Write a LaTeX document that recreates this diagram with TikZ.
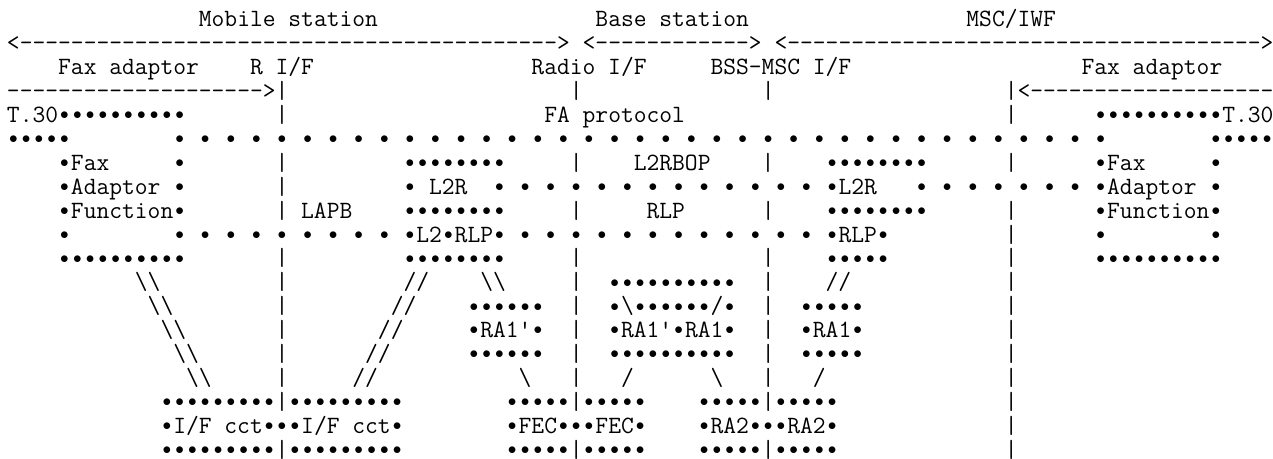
\documentclass[tikz,border=0pt]{standalone}
\usepackage{graphicx}
\usepackage{tikz}

% one character cell of the typewriter font
\newcommand\dt{\makebox[\fontcharwd\font`x]{\raisebox{0.11em}{\scalebox{0.75}{$\bullet$}}}}
\newcommand\gap[1]{\kern\dimexpr #1\fontcharwd\font`x\relax}
\newcommand\dts[1]{\foreach\dtk in {1,...,#1}{\dt}}
\newcommand\sdts[1]{\dt\foreach\dtk in {2,...,#1}{\gap{1}\dt}}
\newcommand\dashes[1]{\foreach\dtk in {1,...,#1}{-}}
\newcommand\bsl{\textbackslash}

\begin{document}
\begin{tikzpicture}[
    x=0.75pt, y=-0.75pt,
    art/.style={anchor=base west, inner sep=0pt, outer sep=0pt, font=\ttfamily\fontsize{18.63}{20}\selectfont}
]
    \useasboundingbox (0,0) rectangle (1273,459);

    % Entities and interfaces
    \node[art] (stations) at (7,27) {\gap{15}Mobile station\gap{17}Base station\gap{17}MSC/IWF};
    \node[art] (spans) at (7,50.9) {<\dashes{42}>\gap{1}<\dashes{12}>\gap{1}<\dashes{37}>};
    \node[art] (ifnames) at (7,74.8) {\gap{4}Fax adaptor\gap{4}R I/F\gap{17}Radio I/F\gap{5}BSS-MSC I/F\gap{18}Fax adaptor};
    \node[art] (ifticks) at (7,98.7) {\dashes{20}>|\gap{22}|\gap{14}|\gap{18}|<\dashes{19}};

    % Fax adaptor layers
    \node[art] (t30) at (7,122.6) {T.30\dts{10}\gap{7}|\gap{20}FA protocol\gap{25}|\gap{6}\dts{10}T.30};
    \node[art] (fadots) at (7,146.5) {\dts{5}\gap{8}\sdts{37}\gap{8}\dts{5}};
    \node[art] (faxrow) at (7,170.4) {\gap{4}\dt Fax\gap{5}\dt\gap{7}|\gap{9}\dts{8}\gap{5}|\gap{4}L2RBOP\gap{4}|\gap{4}\dts{8}\gap{6}|\gap{6}\dt Fax\gap{5}\dt};
    \node[art] (adaptorrow) at (7,194.3) {\gap{4}\dt Adaptor\gap{1}\dt\gap{7}|\gap{9}\dt\gap{1}L2R\gap{2}\sdts{13}\gap{1}\dt L2R\gap{3}\sdts{7}\gap{1}\dt Adaptor\gap{1}\dt};
    \node[art] (functionrow) at (7,218.2) {\gap{4}\dt Function\dt\gap{7}|\gap{1}LAPB\gap{4}\dts{8}\gap{5}|\gap{5}RLP\gap{6}|\gap{4}\dts{8}\gap{6}|\gap{6}\dt Function\dt};
    \node[art] (rlpdots) at (7,242.1) {\gap{4}\dt\gap{8}\sdts{9}\gap{1}\dt L2\dt RLP\dt\gap{1}\sdts{12}\gap{1}\dt RLP\dt\gap{9}|\gap{6}\dt\gap{8}\dt};
    \node[art] (boxbase) at (7,266) {\gap{4}\dts{10}\gap{7}|\gap{9}\dts{8}\gap{5}|\gap{14}|\gap{4}\dts{5}\gap{9}|\gap{6}\dts{10}};

    % Rate adaption
    \node[art] (slanta) at (7,289.9) {\gap{10}\bsl\bsl\gap{9}|\gap{9}//\gap{4}\bsl\bsl\gap{5}|\gap{2}\dts{10}\gap{2}|\gap{4}//\gap{12}|};
    \node[art] (slantb) at (7,313.8) {\gap{11}\bsl\bsl\gap{8}|\gap{8}//\gap{4}\dts{6}\gap{2}|\gap{2}\dt\bsl\dts{6}/\dt\gap{2}|\gap{2}\dts{5}\gap{11}|};
    \node[art] (ra1row) at (7,337.7) {\gap{12}\bsl\bsl\gap{7}|\gap{7}//\gap{5}\dt RA1\textquotesingle\dt\gap{2}|\gap{2}\dt RA1\textquotesingle\dt RA1\dt\gap{2}|\gap{2}\dt RA1\dt\gap{11}|};
    \node[art] (slantc) at (7,361.6) {\gap{13}\bsl\bsl\gap{6}|\gap{6}//\gap{6}\dts{6}\gap{2}|\gap{2}\dts{10}\gap{2}|\gap{2}\dts{5}\gap{11}|};
    \node[art] (slantd) at (7,385.5) {\gap{14}\bsl\bsl\gap{5}|\gap{5}//\gap{11}\bsl\gap{3}|\gap{3}/\gap{6}\bsl\gap{3}|\gap{3}/\gap{14}|};

    % Interface circuits
    \node[art] (ccttop) at (7,409.4) {\gap{12}\dts{9}|\dts{9}\gap{8}\dts{5}|\dts{5}\gap{4}\dts{5}|\dts{5}\gap{13}|};
    \node[art] (cctrow) at (7,433.3) {\gap{12}\dt I/F cct\dts{3}I/F cct\dt\gap{8}\dt FEC\dts{3}FEC\dt\gap{4}\dt RA2\dts{3}RA2\dt\gap{13}|};
    \node[art] (cctbot) at (7,457.2) {\gap{12}\dts{9}|\dts{9}\gap{8}\dts{5}|\dts{5}\gap{4}\dts{5}|\dts{5}\gap{13}|};
\end{tikzpicture}
\end{document}
